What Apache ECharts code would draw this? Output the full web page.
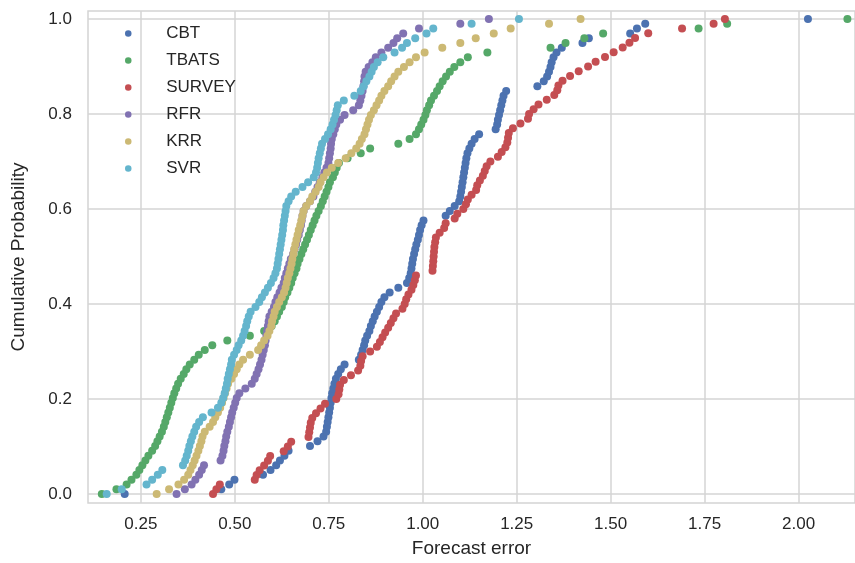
<!DOCTYPE html>
<html><head><meta charset="utf-8">
<script src="https://cdn.jsdelivr.net/npm/echarts@6/dist/echarts.min.js"></script>
<style>html,body{margin:0;padding:0;background:#fff}#c{width:855px;height:563px}</style>
</head><body><div id="c"></div>
<script>
const seriesNames = ['CBT', 'TBATS', 'SURVEY', 'RFR', 'KRR', 'SVR'];

const cbtErrors = [0.207,0.464,0.485,0.499,0.575,0.595,0.610,0.620,0.632,0.643,
0.700,0.720,0.736,0.743,0.745,0.747,0.749,0.751,0.753,0.755,
0.757,0.759,0.762,0.765,0.769,0.775,0.782,0.792,0.830,0.836,
0.840,0.844,0.847,0.852,0.858,0.862,0.867,0.872,0.878,0.884,
0.890,0.898,0.912,0.935,0.958,0.964,0.968,0.970,0.972,0.974,
0.977,0.980,0.983,0.987,0.990,0.993,0.997,1.002,1.061,1.072,
1.085,1.097,1.100,1.102,1.104,1.106,1.108,1.110,1.112,1.114,
1.116,1.119,1.124,1.130,1.138,1.150,1.194,1.198,1.200,1.203,
1.206,1.209,1.212,1.215,1.222,1.305,1.322,1.331,1.336,1.340,
1.343,1.348,1.356,1.370,1.425,1.442,1.552,1.570,1.592,2.025];

const tbatsErrors = [0.146,0.185,0.212,0.225,0.238,0.246,0.254,0.262,0.270,0.280,
0.288,0.294,0.300,0.306,0.311,0.315,0.319,0.323,0.327,0.331,
0.335,0.339,0.344,0.349,0.356,0.364,0.371,0.380,0.392,0.404,
0.420,0.440,0.480,0.540,0.578,0.598,0.606,0.612,0.618,0.625,
0.630,0.634,0.640,0.645,0.650,0.654,0.659,0.664,0.667,0.672,
0.677,0.682,0.687,0.692,0.697,0.702,0.707,0.712,0.717,0.723,
0.729,0.734,0.739,0.744,0.749,0.753,0.761,0.766,0.771,0.777,
0.800,0.835,0.860,0.935,0.965,0.982,0.990,0.996,1.002,1.007,
1.011,1.017,1.022,1.030,1.038,1.045,1.053,1.062,1.072,1.084,
1.100,1.120,1.172,1.340,1.380,1.430,1.480,1.734,1.810,2.130];

const surveyErrors = [0.442,0.451,0.460,0.553,0.558,0.566,0.578,0.588,0.594,0.630,
0.641,0.650,0.696,0.698,0.700,0.702,0.706,0.716,0.728,0.740,
0.770,0.776,0.778,0.780,0.790,0.809,0.828,0.834,0.836,0.840,
0.860,0.878,0.886,0.893,0.900,0.908,0.915,0.922,0.929,0.946,
0.952,0.956,0.962,0.970,0.975,0.979,0.982,1.026,1.027,1.028,
1.029,1.030,1.031,1.033,1.035,1.045,1.057,1.061,1.085,1.092,
1.108,1.115,1.120,1.130,1.142,1.145,1.152,1.160,1.165,1.170,
1.180,1.200,1.210,1.220,1.225,1.227,1.229,1.240,1.260,1.280,
1.283,1.295,1.308,1.330,1.350,1.358,1.361,1.372,1.392,1.415,
1.440,1.460,1.485,1.508,1.532,1.550,1.565,1.600,1.690,1.774,1.804];

const rfrErrors = [0.345,0.367,0.385,0.395,0.405,0.412,0.418,0.462,0.467,0.470,
0.472,0.475,0.477,0.480,0.484,0.487,0.490,0.493,0.497,0.501,
0.505,0.512,0.528,0.545,0.553,0.558,0.563,0.567,0.571,0.574,
0.577,0.580,0.582,0.584,0.586,0.588,0.590,0.592,0.598,0.604,
0.608,0.613,0.619,0.624,0.630,0.633,0.637,0.641,0.645,0.649,
0.655,0.659,0.663,0.666,0.670,0.673,0.676,0.678,0.680,0.683,
0.690,0.700,0.709,0.714,0.720,0.726,0.733,0.738,0.744,0.749,
0.751,0.753,0.755,0.756,0.758,0.762,0.766,0.770,0.780,0.792,
0.815,0.830,0.834,0.837,0.840,0.842,0.844,0.845,0.848,0.856,
0.866,0.875,0.890,0.908,0.922,0.932,0.948,0.990,1.100,1.176];

const krrErrors = [0.292,0.325,0.350,0.365,0.376,0.382,0.388,0.393,0.398,0.403,
0.407,0.411,0.414,0.420,0.433,0.442,0.448,0.455,0.461,0.466,
0.470,0.474,0.478,0.482,0.491,0.498,0.505,0.512,0.522,0.540,
0.562,0.570,0.578,0.587,0.592,0.597,0.599,0.603,0.606,0.612,
0.618,0.625,0.631,0.635,0.638,0.641,0.645,0.648,0.651,0.653,
0.656,0.658,0.661,0.664,0.667,0.670,0.674,0.677,0.680,0.683,
0.690,0.700,0.706,0.715,0.723,0.728,0.736,0.745,0.758,0.775,
0.795,0.810,0.823,0.832,0.838,0.845,0.849,0.853,0.857,0.862,
0.870,0.877,0.884,0.890,0.898,0.908,0.916,0.925,0.935,0.950,
0.965,0.982,1.005,1.052,1.100,1.141,1.189,1.234,1.336,1.420];

const svrErrors = [0.159,0.199,0.265,0.280,0.295,0.307,0.362,0.368,0.372,0.376,
0.379,0.383,0.387,0.392,0.397,0.405,0.415,0.438,0.455,0.464,
0.469,0.473,0.476,0.479,0.481,0.484,0.487,0.490,0.492,0.498,
0.505,0.510,0.517,0.522,0.526,0.530,0.533,0.537,0.542,0.555,
0.565,0.572,0.580,0.588,0.596,0.603,0.608,0.612,0.614,0.616,
0.618,0.620,0.622,0.624,0.626,0.628,0.629,0.631,0.633,0.635,
0.637,0.643,0.650,0.662,0.680,0.695,0.710,0.716,0.719,0.721,
0.723,0.726,0.729,0.732,0.740,0.748,0.755,0.760,0.764,0.768,
0.771,0.774,0.790,0.818,0.835,0.843,0.850,0.858,0.864,0.870,
0.880,0.895,0.925,0.945,0.958,0.980,1.010,1.028,1.130,1.256];

const xTicks = [0.25, 0.50, 0.75, 1.00, 1.25, 1.50, 1.75, 2.00];
const yTicks = [0.0, 0.2, 0.4, 0.6, 0.8, 1.0];

const colors = ['#4C72B0', '#55A868', '#C44E52', '#8172B2', '#CCB974', '#64B5CD'];
const allErrors = [cbtErrors, tbatsErrors, surveyErrors, rfrErrors, krrErrors, svrErrors];

// empirical cumulative distribution: sorted error vs. rank fraction
function ecdf(errs) {
  const s = errs.slice().sort((a, b) => a - b);
  const n = s.length;
  return s.map((v, i) => [v, i / (n - 1)]);
}

const FONT = "'Liberation Sans', Arial, sans-serif";
const TXT = '#262626';
const GRIDC = '#d4d4d4';

const chart = echarts.init(document.getElementById('c'), null, { renderer: 'canvas' });
chart.setOption({
  animation: false,
  backgroundColor: '#ffffff',
  textStyle: { fontFamily: FONT },
  grid: { left: 88, right: -2, top: 11, bottom: 60, show: true, borderColor: GRIDC, borderWidth: 1.5, containLabel: false },
  legend: {
    orient: 'vertical', left: 125, top: 25, padding: 0,
    icon: 'circle', itemWidth: 66, itemHeight: 6.5, itemGap: 10,
    textStyle: { fontSize: 17, color: TXT, fontFamily: FONT },
    data: seriesNames
  },
  xAxis: {
    type: 'value', min: 0.1093, max: 2.1502,
    name: 'Forecast error', nameLocation: 'middle', nameGap: 36,
    nameTextStyle: { fontSize: 19, color: TXT, fontFamily: FONT },
    axisLine: { show: false },
    axisTick: { show: false, customValues: xTicks },
    axisLabel: { customValues: xTicks, fontSize: 17, color: TXT, margin: 13, fontFamily: FONT,
      formatter: v => v.toFixed(2) },
    splitLine: { show: true, lineStyle: { color: GRIDC, width: 1.5 } }
  },
  yAxis: {
    type: 'value', min: -0.0189, max: 1.0168,
    name: 'Cumulative Probability', nameLocation: 'middle', nameGap: 60,
    nameTextStyle: { fontSize: 19, color: TXT, fontFamily: FONT },
    axisLine: { show: false },
    axisTick: { show: false, customValues: yTicks },
    axisLabel: { customValues: yTicks, fontSize: 17, color: TXT, margin: 16, fontFamily: FONT,
      formatter: v => v.toFixed(1) },
    splitLine: { show: true, lineStyle: { color: GRIDC, width: 1.5 } }
  },
  series: seriesNames.map((name, k) => ({
    name: name, type: 'scatter', symbol: 'circle', symbolSize: 8,
    itemStyle: { color: colors[k], opacity: 1 },
    data: ecdf(allErrors[k])
  }))
});
</script></body></html>
